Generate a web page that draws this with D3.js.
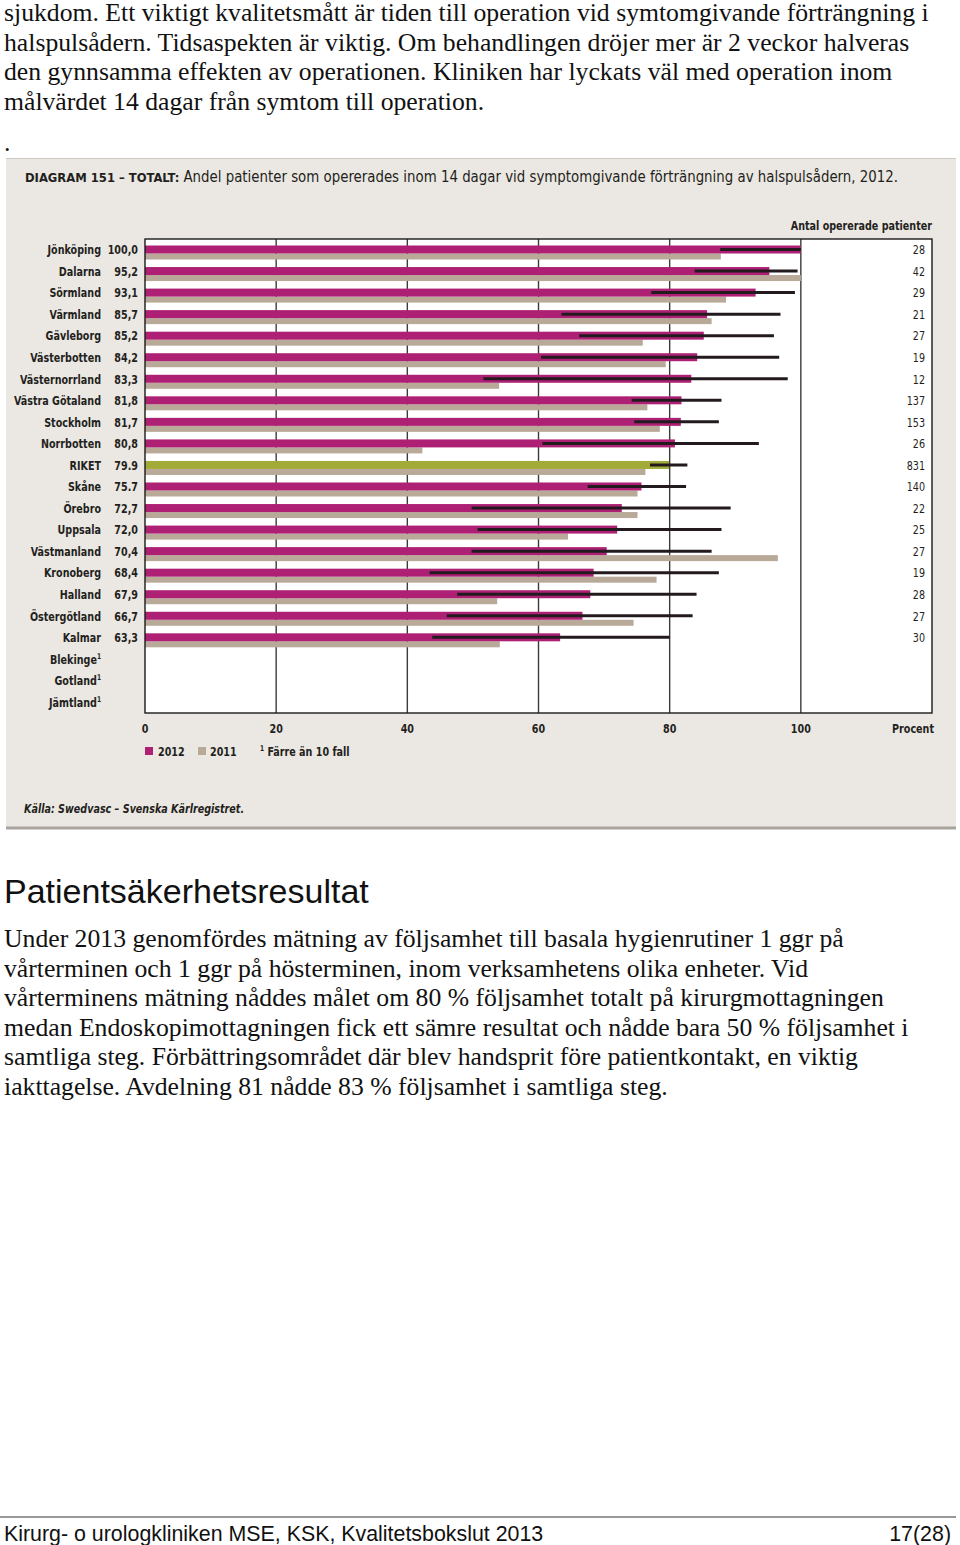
<!DOCTYPE html>
<html>
<head>
<meta charset="utf-8">
<script src="https://cdn.jsdelivr.net/npm/d3@7"></script>
<style>
  html, body { margin: 0; padding: 0; background: #fff; }
  svg { display: block; }
  .serif { font-family: "Liberation Serif", "Times New Roman", serif; }
  .cond { font-family: "DejaVu Sans Condensed", "DejaVu Sans", sans-serif; font-stretch: condensed; }
</style>
</head>
<body>
<svg id="page" width="960" height="1545"></svg>
<script>
// ---------------- DATA ----------------
const regions = ["Jönköping","Dalarna","Sörmland","Värmland","Gävleborg","Västerbotten","Västernorrland","Västra Götaland","Stockholm","Norrbotten","RIKET","Skåne","Örebro","Uppsala","Västmanland","Kronoberg","Halland","Östergötland","Kalmar","Blekinge","Gotland","Jämtland"];
const fewCases = ["Blekinge","Gotland","Jämtland"];
const values2012 = [100.0,95.2,93.1,85.7,85.2,84.2,83.3,81.8,81.7,80.8,79.9,75.7,72.7,72.0,70.4,68.4,67.9,66.7,63.3];
const valueLabels = ["100,0","95,2","93,1","85,7","85,2","84,2","83,3","81,8","81,7","80,8","79.9","75.7","72,7","72,0","70,4","68,4","67,9","66,7","63,3"];
const values2011 = [87.8,100.0,88.6,86.4,75.9,79.4,54.0,76.6,78.5,42.3,76.3,75.1,75.1,64.5,96.5,78.0,53.7,74.5,54.1];
const ciLow  = [87.7,83.8,77.2,63.5,66.2,60.4,51.6,74.2,74.6,60.6,77.0,67.5,49.8,50.7,49.8,43.4,47.6,46.0,43.8];
const ciHigh = [100.0,99.5,99.1,96.9,95.9,96.7,98.0,87.9,87.5,93.6,82.7,82.5,89.3,87.9,86.4,87.5,84.1,83.5,80.0];
const counts = [28,42,29,21,27,19,12,137,153,26,831,140,22,25,27,19,28,27,30];
const xTicks = [0,20,40,60,80,100];
const gridTicks = [20,40,60,80,100];

const topText = [
  "sjukdom. Ett viktigt kvalitetsmått är tiden till operation vid symtomgivande förträngning i",
  "halspulsådern. Tidsaspekten är viktig. Om behandlingen dröjer mer är 2 veckor halveras",
  "den gynnsamma effekten av operationen. Kliniken har lyckats väl med operation inom",
  "målvärdet 14 dagar från symtom till operation."
];
const heading = "Patientsäkerhetsresultat";
const bodyText = [
  "Under 2013 genomfördes mätning av följsamhet till basala hygienrutiner 1 ggr på",
  "vårterminen och 1 ggr på hösterminen, inom verksamhetens olika enheter. Vid",
  "vårterminens mätning nåddes målet om 80 % följsamhet totalt på kirurgmottagningen",
  "medan Endoskopimottagningen fick ett sämre resultat och nådde bara 50 % följsamhet i",
  "samtliga steg. Förbättringsområdet där blev handsprit före patientkontakt, en viktig",
  "iakttagelse. Avdelning 81 nådde 83 % följsamhet i samtliga steg."
];

// ---------------- COLORS ----------------
const C = { mag: "#ae2074", tan: "#b9a999", green: "#a3ab38", panel: "#ebe7e2", ink: "#231f20", ci: "#231a1f" };
const S = 0.82; // horizontal condensing for chart text

const svg = d3.select("#page");

// ---------------- PAGE TEXT ----------------
const tt = svg.append("g").attr("class", "serif").attr("font-size", 25.7).attr("fill", "#111");
topText.forEach((t, i) => tt.append("text").attr("x", 4).attr("y", 21 + i * 29.6).text(t));
tt.append("text").attr("x", 4).attr("y", 151).text(".");

svg.append("text").attr("x", 4).attr("y", 903)
  .attr("font-family", "Liberation Sans, Arial, sans-serif").attr("font-size", 34).attr("fill", "#111")
  .text(heading);

const bt = svg.append("g").attr("class", "serif").attr("font-size", 25.7).attr("fill", "#111");
bodyText.forEach((t, i) => bt.append("text").attr("x", 4).attr("y", 947 + i * 29.6).text(t));

// footer
svg.append("line").attr("x1", 0).attr("x2", 956).attr("y1", 1517).attr("y2", 1517).attr("stroke", "#333").attr("stroke-width", 1);
const ft = svg.append("g").attr("font-family", "Liberation Sans, Arial, sans-serif").attr("font-size", 23).attr("fill", "#111");
ft.append("text").attr("transform", "translate(4,1541) scale(0.93,1)").text("Kirurg- o urologkliniken MSE, KSK, Kvalitetsbokslut 2013");
ft.append("text").attr("transform", "translate(951,1541) scale(0.93,1)").attr("text-anchor", "end").text("17(28)");

// ---------------- CHART PANEL ----------------
svg.append("rect").attr("x", 6).attr("y", 158).attr("width", 950).attr("height", 671).attr("fill", C.panel);
svg.append("line").attr("x1", 6).attr("x2", 956).attr("y1", 158.5).attr("y2", 158.5).attr("stroke", "#cfcac5").attr("stroke-width", 1);
svg.append("line").attr("x1", 6).attr("x2", 956).attr("y1", 828).attr("y2", 828).attr("stroke", "#aaa49e").attr("stroke-width", 3);

const chart = svg.append("g").attr("class", "cond").attr("fill", C.ink);
function ctext(g, xx, yy, anchor) {
  return g.append("text").attr("transform", `translate(${xx},${yy}) scale(${S},1)`).attr("text-anchor", anchor || "start");
}

// title
const title = chart.append("text").attr("x", 25).attr("y", 182).attr("font-size", 15)
  .attr("textLength", 873).attr("lengthAdjust", "spacingAndGlyphs");
title.append("tspan").attr("font-weight", "bold").attr("font-size", 13).text("DIAGRAM 151 – TOTALT: ");
title.append("tspan").text("Andel patienter som opererades inom 14 dagar vid symptomgivande förträngning av halspulsådern, 2012.");

const x = d3.scaleLinear().domain([0, 120]).range([145, 932]);
const y = d3.scaleBand().domain(regions).range([239, 713]).padding(0);

// plot background
chart.append("rect").attr("x", x(0)).attr("y", 239).attr("width", x(120) - x(0)).attr("height", 713 - 239).attr("fill", "#fff");

// gridlines
chart.append("g").selectAll("line").data(gridTicks).join("line")
  .attr("x1", d => x(d)).attr("x2", d => x(d)).attr("y1", 239).attr("y2", 713)
  .attr("stroke", "#3b3b3b").attr("stroke-width", 1.4);

const rows = regions.slice(0, values2012.length).map((r, i) => ({
  r, v12: values2012[i], v11: values2011[i], lo: ciLow[i], hi: ciHigh[i], n: counts[i], lab: valueLabels[i]
}));

// bars 2011
chart.append("g").selectAll("rect").data(rows).join("rect")
  .attr("x", x(0)).attr("y", d => y(d.r) + 14.5).attr("height", 6)
  .attr("width", d => x(d.v11) - x(0)).attr("fill", C.tan);
// bars 2012
chart.append("g").selectAll("rect").data(rows).join("rect")
  .attr("x", x(0)).attr("y", d => y(d.r) + 6.5).attr("height", 8)
  .attr("width", d => x(d.v12) - x(0)).attr("fill", d => d.r === "RIKET" ? C.green : C.mag);
// confidence intervals
chart.append("g").selectAll("line").data(rows).join("line")
  .attr("x1", d => x(d.lo)).attr("x2", d => x(d.hi))
  .attr("y1", d => y(d.r) + 10.5).attr("y2", d => y(d.r) + 10.5)
  .attr("stroke", C.ci).attr("stroke-width", 3);

// frame
chart.append("rect").attr("x", x(0)).attr("y", 239).attr("width", x(120) - x(0)).attr("height", 713 - 239)
  .attr("fill", "none").attr("stroke", "#1a1a1a").attr("stroke-width", 1.4);

// region labels
const lab = chart.append("g").attr("font-size", 13).attr("font-weight", "bold");
regions.forEach(r => {
  const t = ctext(lab, 101, y(r) + y.bandwidth() / 2 + 4.5, "end");
  t.append("tspan").text(r);
  if (fewCases.includes(r)) t.append("tspan").attr("font-size", 8).attr("dy", -5).text("1");
});
// value labels
rows.forEach(d => ctext(lab, 138, y(d.r) + y.bandwidth() / 2 + 4.5, "end").text(d.lab));
// counts
const cg = chart.append("g").attr("font-size", 13);
rows.forEach(d => ctext(cg, 925, y(d.r) + y.bandwidth() / 2 + 4.5, "end").text(d.n));
ctext(chart, 932, 230, "end").attr("font-size", 13).attr("font-weight", "bold").text("Antal opererade patienter");

// x axis labels
const ax = chart.append("g").attr("font-size", 13).attr("font-weight", "bold");
xTicks.forEach(d => ctext(ax, x(d), 733, "middle").text(d));
ctext(ax, 934, 733, "end").text("Procent");

// legend
const lg = chart.append("g").attr("font-size", 13).attr("font-weight", "bold");
lg.append("rect").attr("x", 145).attr("y", 747).attr("width", 8).attr("height", 8).attr("fill", C.mag);
ctext(lg, 158, 756).text("2012");
lg.append("rect").attr("x", 198).attr("y", 747).attr("width", 8).attr("height", 8).attr("fill", C.tan);
ctext(lg, 210, 756).text("2011");
const fn = ctext(lg, 260, 756);
fn.append("tspan").attr("font-size", 8).attr("dy", -5).text("1");
fn.append("tspan").attr("dy", 5).text(" Färre än 10 fall");

// source
ctext(chart, 24, 813).attr("font-size", 13).attr("font-style", "italic").attr("font-weight", "bold")
  .text("Källa: Swedvasc – Svenska Kärlregistret.");
</script>
</body>
</html>
